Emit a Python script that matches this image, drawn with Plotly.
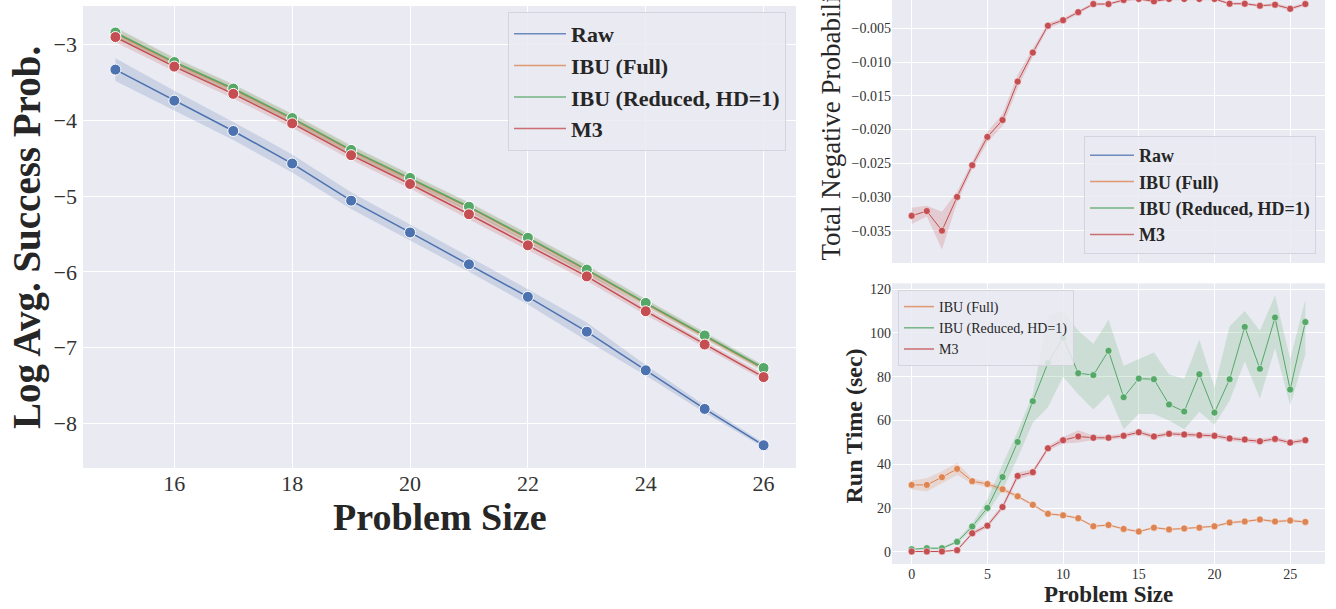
import plotly.graph_objects as go

# ---------------- data ----------------
sizes_left = [15, 16, 17, 18, 19, 20, 21, 22, 23, 24, 25, 26]
raw_log = [-3.33, -3.74, -4.14, -4.57, -5.06, -5.48, -5.90, -6.33, -6.79, -7.30, -7.81, -8.29]
raw_ci = [0.15, 0.13, 0.12, 0.12, 0.11, 0.11, 0.10, 0.10, 0.12, 0.07, 0.05, 0.03]
ibu_full_log = [-2.85, -3.24, -3.59, -3.98, -4.40, -4.77, -5.15, -5.56, -5.98, -6.42, -6.85, -7.28]
ibu_red_log = [-2.84, -3.23, -3.58, -3.97, -4.39, -4.76, -5.14, -5.55, -5.97, -6.41, -6.84, -7.27]
m3_log = [-2.90, -3.29, -3.65, -4.04, -4.46, -4.84, -5.24, -5.65, -6.06, -6.52, -6.96, -7.39]
ibu_ci = [0.07, 0.06, 0.06, 0.06, 0.06, 0.06, 0.06, 0.06, 0.06, 0.05, 0.04, 0.04]
m3_ci = [0.07, 0.06, 0.06, 0.06, 0.06, 0.06, 0.06, 0.06, 0.06, 0.05, 0.04, 0.04]

sizes_right = list(range(27))
neg_m3 = [-0.0328, -0.0321, -0.0350, -0.0300, -0.0253, -0.0211, -0.0186, -0.0129, -0.0086,
          -0.0046, -0.0038, -0.0026, -0.0014, -0.0014, -0.0008, -0.00065, -0.0010, -0.00065,
          -0.00065, -0.00065, -0.00065, -0.00135, -0.00135, -0.00165, -0.0015, -0.0021, -0.0014]
neg_ci = [0.0012, 0.0008, 0.0028, 0.0008, 0.0006, 0.0008, 0.0009, 0.0010, 0.0006,
          0.0004, 0.0003, 0.0003, 0.0002, 0.0002, 0.0002, 0.0002, 0.0002, 0.0002,
          0.0002, 0.0002, 0.0002, 0.0002, 0.0002, 0.0002, 0.0002, 0.0003, 0.0002]

time_ibu_full = [30.6, 30.6, 34.1, 37.9, 32.3, 31.0, 28.6, 25.4, 21.5, 17.4, 16.7, 15.4, 11.7, 12.3,
                 10.5, 9.3, 11.1, 10.3, 10.7, 11.1, 11.7, 13.4, 13.9, 14.8, 13.9, 14.3, 13.7]
time_ibu_full_ci = [2.0, 3.0, 2.7, 2.8, 1.2, 1.2, 1.2, 0.8, 0.6, 0.5, 0.5, 0.5, 0.5, 0.5,
                    0.5, 0.5, 0.5, 0.5, 0.5, 0.5, 0.5, 0.6, 0.6, 0.6, 0.6, 0.6, 0.6]
time_ibu_red = [1.2, 1.7, 1.7, 4.6, 11.6, 20.1, 34.2, 50.2, 68.8, 86.3, 97.7, 81.6, 80.7, 91.8,
                70.6, 79.1, 78.8, 67.3, 64.1, 81.1, 63.6, 78.8, 102.7, 83.6, 107.0, 74.1, 104.9]
time_ibu_red_hi = [1.5, 2.2, 2.2, 5.5, 13, 24, 40, 55, 72, 108, 110, 101, 95, 106,
                   85, 88, 91, 81, 79, 97, 75, 103, 110, 101, 117, 88, 115]
time_ibu_red_lo = [0.9, 1.2, 1.2, 3.8, 10, 18, 28, 43, 59, 66, 80, 72, 65, 72,
                   56, 63, 63, 60, 56, 64, 58, 69, 87, 70, 93, 67, 90]
time_m3 = [0.2, 0.2, 0.2, 0.8, 8.5, 12.0, 20.5, 34.7, 36.4, 47.3, 51.0, 52.7, 52.1, 52.1,
           53.0, 54.6, 52.7, 53.9, 53.6, 53.3, 53.0, 51.8, 51.3, 50.5, 51.6, 49.9, 51.0]
time_m3_ci = [0.3, 0.3, 0.3, 0.5, 1.0, 1.0, 1.2, 1.5, 1.2, 1.0, 1.5, 2.8, 1.0, 1.0,
              1.0, 1.0, 1.0, 1.0, 1.0, 1.0, 1.0, 1.0, 1.0, 1.0, 1.0, 1.0, 1.0]

names = ["Raw", "IBU (Full)", "IBU (Reduced, HD=1)", "M3"]
colors = {"Raw": "#4C72B0", "IBU (Full)": "#DD8452", "IBU (Reduced, HD=1)": "#55A868", "M3": "#C44E52"}
fills = {"Raw": "rgba(76,114,176,0.2)", "IBU (Full)": "rgba(221,132,82,0.2)",
         "IBU (Reduced, HD=1)": "rgba(85,168,104,0.2)", "M3": "rgba(196,78,82,0.2)"}

W, H = 1336, 609
FONT = "Liberation Serif"
TXT = "#262626"

def px(x):
    return x / W

def py(y):
    return 1 - y / H

fig = go.Figure()

def band(x, lo, hi, name, xa, ya):
    fig.add_trace(go.Scatter(x=list(x) + list(x)[::-1], y=list(hi) + list(lo)[::-1],
                             fill="toself", fillcolor=fills[name], line=dict(width=0),
                             mode="lines", hoverinfo="skip", showlegend=False,
                             xaxis=xa, yaxis=ya))

def line(x, y, name, xa, ya, msize, lw):
    fig.add_trace(go.Scatter(x=x, y=y, mode="lines+markers", name=name, showlegend=False,
                             line=dict(color=colors[name], width=lw),
                             marker=dict(color=colors[name], size=msize,
                                         line=dict(color="white", width=1 if msize > 8 else 0.5)),
                             xaxis=xa, yaxis=ya))

def legend_entry(name, legend):
    fig.add_trace(go.Scatter(x=[None], y=[None], mode="lines", name=name, legend=legend,
                             line=dict(color=colors[name], width=1.5), opacity=0.8,
                             xaxis="x", yaxis="y"))

# ---- left panel ----
left_series = [("Raw", raw_log, raw_ci), ("IBU (Full)", ibu_full_log, ibu_ci),
               ("IBU (Reduced, HD=1)", ibu_red_log, ibu_ci), ("M3", m3_log, m3_ci)]
for nm, ys, ci in left_series:
    band(sizes_left, [a - c for a, c in zip(ys, ci)], [a + c for a, c in zip(ys, ci)], nm, "x", "y")
for nm, ys, ci in left_series:
    line(sizes_left, ys, nm, "x", "y", 11, 1.5)
for nm in names:
    legend_entry(nm, "legend")

# ---- top right ----
band(sizes_right, [a - c for a, c in zip(neg_m3, neg_ci)], [a + c for a, c in zip(neg_m3, neg_ci)], "M3", "x2", "y2")
line(sizes_right, neg_m3, "M3", "x2", "y2", 7, 1)
for nm in names:
    legend_entry(nm, "legend2")

# ---- bottom right ----
band(sizes_right, [a - c for a, c in zip(time_ibu_full, time_ibu_full_ci)],
     [a + c for a, c in zip(time_ibu_full, time_ibu_full_ci)], "IBU (Full)", "x3", "y3")
band(sizes_right, time_ibu_red_lo, time_ibu_red_hi, "IBU (Reduced, HD=1)", "x3", "y3")
band(sizes_right, [a - c for a, c in zip(time_m3, time_m3_ci)],
     [a + c for a, c in zip(time_m3, time_m3_ci)], "M3", "x3", "y3")
line(sizes_right, time_ibu_full, "IBU (Full)", "x3", "y3", 7, 1)
line(sizes_right, time_ibu_red, "IBU (Reduced, HD=1)", "x3", "y3", 7, 1)
line(sizes_right, time_m3, "M3", "x3", "y3", 7, 1)
for nm in names[1:]:
    legend_entry(nm, "legend3")

ax_common = dict(showline=False, zeroline=False, gridcolor="white", gridwidth=1,
                 ticks="", showgrid=True)

fig.update_layout(
    width=W, height=H, margin=dict(l=0, r=0, t=0, b=0),
    paper_bgcolor="white", plot_bgcolor="#EAEAF2",
    font=dict(family=FONT, color=TXT),
    xaxis=dict(domain=[px(83), px(796)], range=[14.45, 26.55], tickvals=[16, 18, 20, 22, 24, 26],
               tickfont=dict(size=22, color="#333"), anchor="y", **ax_common),
    yaxis=dict(domain=[py(468), py(6)], range=[-8.59, -2.49], tickvals=[-8, -7, -6, -5, -4, -3],
               tickfont=dict(size=22, color="#333"), anchor="x", ticklabelstandoff=5, **ax_common),
    xaxis2=dict(domain=[px(892), px(1325)], range=[-1.3, 27.3], tickvals=[0, 5, 10, 15, 20, 25],
                showticklabels=False, anchor="y2", **ax_common),
    yaxis2=dict(domain=[py(263), 1.0], range=[-0.0398, -0.0008],
                tickvals=[-0.035, -0.030, -0.025, -0.020, -0.015, -0.010, -0.005], tickformat=".3f",
                tickfont=dict(size=14, color="#333"), anchor="x2", **ax_common),
    xaxis3=dict(domain=[px(892), px(1325)], range=[-1.3, 27.3], tickvals=[0, 5, 10, 15, 20, 25],
                tickfont=dict(size=14, color="#333"), anchor="y3", **ax_common),
    yaxis3=dict(domain=[py(564), py(283.3)], range=[-5.5, 122.6], tickvals=[0, 20, 40, 60, 80, 100, 120],
                tickfont=dict(size=14, color="#333"), anchor="x3", **ax_common),
    legend=dict(x=px(786), y=py(12), xanchor="right", yanchor="top", itemwidth=52,
                bgcolor="rgba(234,234,242,0.85)", bordercolor="#D4D4DE", borderwidth=1,
                font=dict(size=22, family=FONT, color=TXT, weight="bold")),
    legend2=dict(x=px(1316), y=py(254), xanchor="right", yanchor="bottom", itemwidth=44,
                 bgcolor="rgba(234,234,242,0.85)", bordercolor="#D4D4DE", borderwidth=1,
                 font=dict(size=18, family=FONT, color=TXT, weight="bold")),
    legend3=dict(x=px(898), y=py(290), xanchor="left", yanchor="top",
                 bgcolor="rgba(234,234,242,0.85)", bordercolor="#D4D4DE", borderwidth=1,
                 font=dict(size=14, family=FONT, color=TXT)),
    showlegend=True,
)

annots = [
    dict(text="<b>Log Avg. Success Prob.</b>", x=px(27), y=py(238), textangle=-90,
         font=dict(size=39), xanchor="center", yanchor="middle"),
    dict(text="<b>Problem Size</b>", x=px(439.5), y=py(517), font=dict(size=38),
         xanchor="center", yanchor="middle"),
    dict(text="Total Negative Probability", x=px(830), y=py(263), textangle=-90,
         font=dict(size=27), xanchor="center", yanchor="bottom"),
    dict(text="<b>Run Time (sec)</b>", x=px(853), y=py(426.5), textangle=-90,
         font=dict(size=24), xanchor="center", yanchor="middle"),
    dict(text="<b>Problem Size</b>", x=px(1108), y=py(594), font=dict(size=23),
         xanchor="center", yanchor="middle"),
]
for a in annots:
    fig.add_annotation(xref="paper", yref="paper", showarrow=False, **a)

fig.write_html("out.html", config={"displayModeBar": False},
               post_script="document.body.style.margin='0px';")
